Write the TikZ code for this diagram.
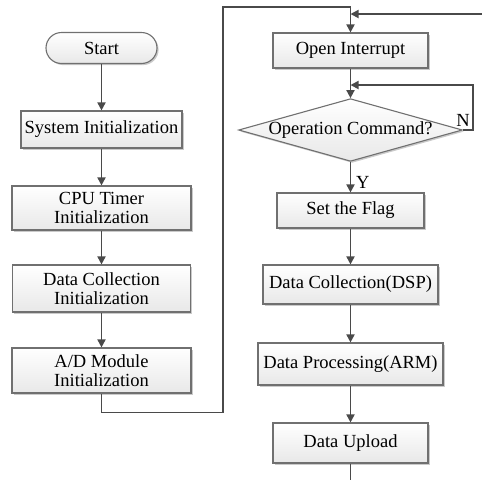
\documentclass[tikz,border=0pt]{standalone}
\usepackage{fontspec}
\setmainfont{Liberation Serif}
\usetikzlibrary{shapes.geometric,arrows.meta,shadows,calc}
\definecolor{ln}{HTML}{4A4A4A}
\definecolor{bd}{HTML}{707070}
\tikzset{
  box/.style={draw=bd,line width=1.1pt,top color=white,bottom color=black!9,
    drop shadow={shadow xshift=1.6pt,shadow yshift=-1.6pt,fill=black!35,opacity=0.6},
    inner sep=0pt,align=center,font=\fontsize{18.5}{19}\selectfont},
  term/.style={box,rounded corners=15.5pt},
  dec/.style={box,diamond},
  conn/.style={draw=ln,line width=1.7pt,-{Triangle[length=8pt,width=8pt]}},
  plain/.style={draw=ln,line width=1.7pt},
  lbl/.style={font=\fontsize{18.5}{21}\selectfont,inner sep=0pt}
}
\begin{document}
\begin{tikzpicture}[x=1pt,y=-1pt]
\useasboundingbox (0,0) rectangle (482,480);
\node[term,minimum width=111pt,minimum height=31pt] (start) at (101.5,48) {Start};
\node[box,minimum width=161pt,minimum height=37pt] (sys) at (101.5,129.5) {System Initialization};
\node[box,minimum width=179pt,minimum height=44pt] (cpu) at (101.5,208) {CPU Timer\\Initialization};
\node[box,minimum width=178pt,minimum height=47pt] (dci) at (101.5,288.5) {Data Collection\\Initialization};
\node[box,minimum width=179pt,minimum height=45pt] (ad) at (101.5,370.5) {A/D Module\\Initialization};

\node[box,minimum width=155pt,minimum height=35pt] (oi) at (350.5,50.5) {Open Interrupt};
\node[dec,minimum width=214pt,minimum height=60pt,aspect=3.57] (dia) at (350.5,130) {\raisebox{-3pt}{Operation Command?}};
\node[box,minimum width=147pt,minimum height=35pt] (sf) at (350.5,210.5) {Set the Flag};
\node[box,minimum width=175pt,minimum height=39pt] (dsp) at (350.5,284.5) {Data Collection(DSP)};
\node[box,minimum width=185pt,minimum height=42pt] (arm) at (350.5,364) {Data Processing(ARM)};
\node[box,minimum width=155pt,minimum height=40pt] (up) at (350.5,443) {Data Upload};

\coordinate (in) at (482,14);
\coordinate (out) at (350.5,480);
\coordinate (nj) at (350.5,85);
\coordinate (tj) at (350.5,14);

\draw[conn] (start) -- (sys);
\draw[conn] (sys) -- (cpu);
\draw[conn] (cpu) -- (dci);
\draw[conn] (dci) -- (ad);
\draw[conn] (ad.south) -- ++(0,19) -| (223,7) -| (oi.north);
\draw[conn] (in) -- (tj);
\draw[conn] (oi) -- (dia);
\draw[conn] (dia.east) -- (473,130) |- (nj);
\draw[conn] (dia) -- (sf);
\draw[conn] (sf) -- (dsp);
\draw[conn] (dsp) -- (arm);
\draw[conn] (arm) -- (up);
\draw[plain] (up) -- (out);

\node[lbl,anchor=south] (n) at (463,127) {N};
\node[lbl,anchor=west] (y) at (356,182) {Y};
\end{tikzpicture}
\end{document}
